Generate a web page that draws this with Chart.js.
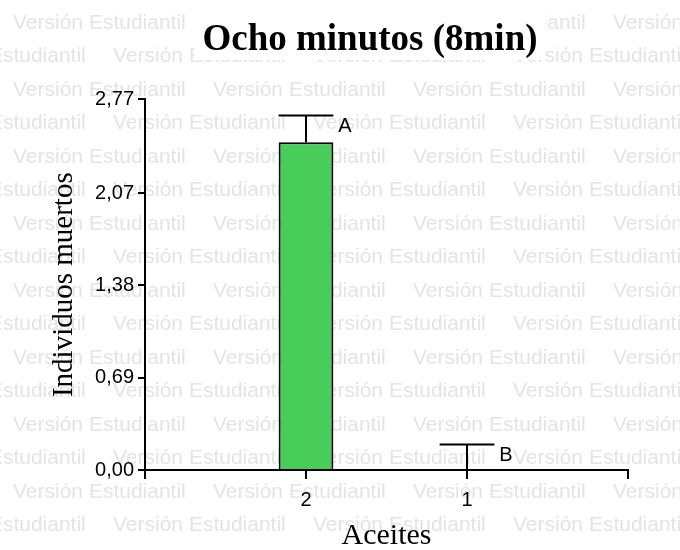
<!DOCTYPE html>
<html>
<head>
<meta charset="utf-8">
<script src="https://cdn.jsdelivr.net/npm/chart.js@4/dist/chart.umd.min.js"></script>
<style>
  html, body { margin:0; padding:0; background:#fff; }
  #wrap { width:680px; height:550px; }
</style>
</head>
<body>
<div id="wrap"><canvas id="chart" width="680" height="550"></canvas></div>
<script>
// data
const categories = ['2', '1'];
const means = [2.45, 0];
const errors = [0.2, 0.19];
const letters = ['A', 'B'];
const yTicks = [0, 0.69, 1.38, 2.07, 2.77];

const fmtComma = v => v.toFixed(2).replace('.', ',');
const titleFont = { family: '"Liberation Serif", "Times New Roman", serif', size: 37, weight: 'bold' };

// "Versión Estudiantil" background stamp
const watermark = {
  id: 'watermark',
  afterLayout(chart){
    // the original title sits a bit right of the canvas centre
    const t = chart.titleBlock;
    if(t){ t.left = 0; t.right = 740; }
  },
  beforeDraw(chart){
    const ctx = chart.ctx;
    ctx.save();
    ctx.fillStyle = '#fff';
    ctx.fillRect(0, 0, chart.width, chart.height);
    ctx.font = '21px "Liberation Sans", Arial, sans-serif';
    ctx.fillStyle = '#e4e4e4';
    ctx.textBaseline = 'middle';
    for(let r=0; r<17; r++){
      const y = 23 + r*33.5;
      const x0 = r%2===0 ? 13 : -87;
      for(let x=x0; x<chart.width; x+=200) ctx.fillText('Versión Estudiantil', x, y);
    }
    // white box behind the title
    ctx.font = `bold ${titleFont.size}px ${titleFont.family}`;
    const w = ctx.measureText(chart.options.plugins.title.text).width;
    const cx = 370;
    ctx.fillStyle = '#fff';
    ctx.fillRect(cx - w/2 - 8, 0, w + 16, 60);
    ctx.restore();
  }
};

// upward error bars with letters
const errorBars = {
  id: 'errorBars',
  afterDatasetsDraw(chart){
    const ctx = chart.ctx;
    const y = chart.scales.y;
    const meta = chart.getDatasetMeta(0);
    ctx.save();
    ctx.strokeStyle = '#000';
    ctx.lineWidth = 2;
    ctx.fillStyle = '#000';
    ctx.font = '20px "Liberation Sans", Arial, sans-serif';
    ctx.textBaseline = 'middle';
    categories.forEach((c, i)=>{
      const el = meta.data[i+1];
      if(!el) return;
      const half = el.width/2;
      const yb = y.getPixelForValue(means[i]);
      const yt = y.getPixelForValue(means[i] + errors[i]);
      ctx.beginPath();
      ctx.moveTo(el.x, yb);
      ctx.lineTo(el.x, yt);
      ctx.moveTo(el.x - half, yt);
      ctx.lineTo(el.x + half, yt);
      ctx.stroke();
      ctx.fillText(letters[i], el.x + half + 5, yt + 11);
    });
    ctx.restore();
  }
};

new Chart(document.getElementById('chart').getContext('2d'), {
  type: 'bar',
  data: {
    labels: ['', ...categories, ''],
    datasets: [{
      data: [null, ...means, null],
      backgroundColor: '#48cd5a',
      borderColor: '#000',
      borderWidth: 2,
      categoryPercentage: 1,
      barPercentage: 0.34
    }]
  },
  options: {
    responsive: false,
    animation: false,
    devicePixelRatio: 1,
    layout: { padding: { left: 0, right: 52, top: 0, bottom: 0 } },
    scales: {
      x: {
        offset: false,
        afterFit: s => { s.height = 80; },
        grid: { display: true, offset: false, drawOnChartArea: false, drawTicks: true, tickLength: 9, color: '#000', lineWidth: 2 },
        border: { display: true, color: '#000', width: 2 },
        ticks: { color: '#000', padding: 9, font: { family: '"Liberation Sans", Arial, sans-serif', size: 20 }, maxRotation: 0, autoSkip: false },
        title: { display: true, text: 'Aceites', color: '#000', padding: { top: 0, bottom: -4 },
          font: { family: '"Liberation Serif", "Times New Roman", serif', size: 30 } }
      },
      y: {
        min: 0, max: 2.77,
        afterFit: s => { s.width = 145; },
        afterBuildTicks: s => { s.ticks = yTicks.map(v => ({ value: v })); },
        grid: { display: true, drawOnChartArea: false, drawTicks: true, tickLength: 7, color: '#000', lineWidth: 2 },
        border: { display: true, color: '#000', width: 2 },
        ticks: { color: '#000', padding: 4, callback: v => fmtComma(v), font: { family: '"Liberation Sans", Arial, sans-serif', size: 20 } },
        title: { display: true, text: 'Individuos muertos', color: '#000', padding: { top: 47, bottom: 0 },
          font: { family: '"Liberation Serif", "Times New Roman", serif', size: 29 } }
      }
    },
    plugins: {
      legend: { display: false },
      tooltip: { enabled: false },
      title: {
        display: true,
        text: 'Ocho minutos (8min)',
        color: '#000',
        font: titleFont,
        padding: { top: 18, bottom: 37 }
      }
    }
  },
  plugins: [watermark, errorBars]
});
</script>
</body>
</html>
